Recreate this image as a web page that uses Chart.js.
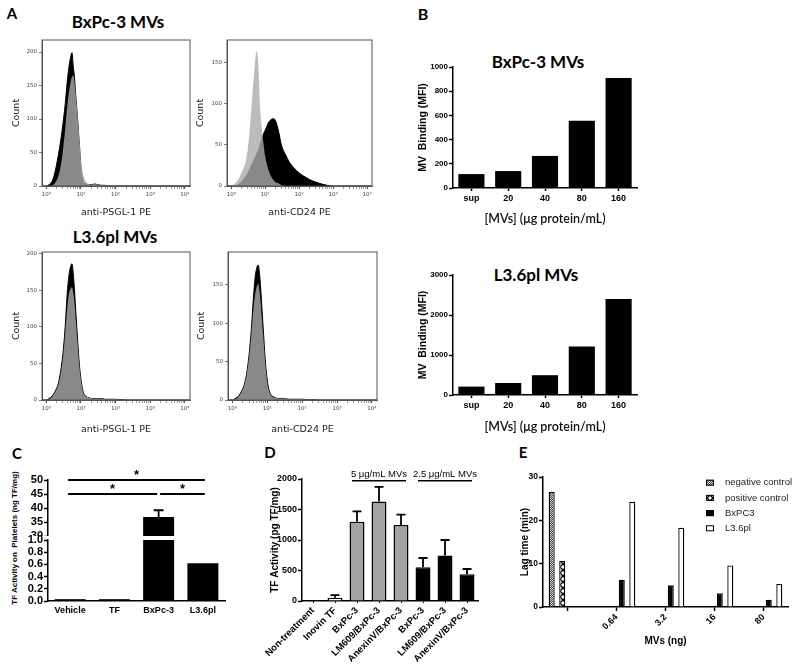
<!DOCTYPE html>
<html lang="en">
<head>
<meta charset="UTF-8" />
<title>MV binding and TF activity</title>
<script src="https://cdn.jsdelivr.net/npm/chart.js@4.4.1/dist/chart.umd.min.js"></script>
<style>
  html, body { margin: 0; background: #fff; }
  body { position: relative; width: 800px; height: 670px; overflow: hidden; }
  canvas { position: absolute; }
  .t { position: absolute; transform: translate(-50%, -50%); white-space: nowrap; line-height: 1;
       font-family: Lato, 'Open Sans', sans-serif; font-weight: 700; color: #000; }
  .ylab { position: absolute; transform: translate(-50%, -50%) rotate(-90deg); white-space: nowrap; line-height: 1;
       font-family: 'Liberation Sans', Arial, sans-serif; font-weight: 700; color: #000; }
</style>
</head>
<body>
  <div class="t" style="left:12px;top:13px;font-size:15px">A</div>
  <div class="t" style="left:118px;top:21px;font-size:17px">BxPc-3 MVs</div>
  <div class="t" style="left:115px;top:236px;font-size:17px">L3.6pl MVs</div>
  <div class="t" style="left:423px;top:14px;font-size:16px">B</div>
  <div class="t" style="left:538px;top:61px;font-size:17px">BxPc-3 MVs</div>
  <div class="t" style="left:536px;top:274px;font-size:17px">L3.6pl MVs</div>
  <div class="t" style="left:17px;top:453px;font-size:15px">C</div>
  <div class="t" style="left:270px;top:452px;font-size:15px">D</div>
  <div class="t" style="left:523px;top:452px;font-size:15px">E</div>
  <div class="ylab" style="left:15px;top:538px;font-size:8px">TF Activity on&nbsp; Platelets (ng TF/mg)</div>

<script>
  const ARIAL = "'Liberation Sans', Arial, sans-serif";
  const FLOW = "'DejaVu Sans', sans-serif";

  // ---- A: flow histograms ----
  const histX = [0.75, 1, 1.2, 1.5, 1.8, 2.2, 2.6, 3, 3.5, 4, 4.5, 5, 5.5, 6, 6.5, 7, 8, 9, 10, 11, 12, 14, 17, 20, 25, 30, 40, 50, 70, 100, 150, 200, 300, 500, 1000, 3000, 14000];
  const bxPsglBlack = [0, 0, 2, 8, 22, 45, 68, 92, 122, 155, 178, 192, 199, 178, 162, 138, 100, 62, 28, 12, 5, 3, 2, 2, 3, 2, 1, 1, 0, 0, 0, 0, 0, 0, 0, 0, 0];
  const bxPsglGrey = [0, 0, 0, 1, 5, 14, 30, 52, 85, 118, 140, 155, 163, 165, 155, 138, 105, 70, 38, 22, 14, 6, 3, 2, 3, 2, 1, 1, 0, 0, 0, 0, 0, 0, 0, 0, 0];
  const bxCd24Black = [0, 0, 0, 1, 3, 7, 11, 15, 20, 26, 30, 34, 38, 41, 45, 50, 58, 64, 68, 72, 76, 80, 82, 80, 66, 50, 38, 30, 22, 16, 11, 8, 5, 2, 0, 0, 0];
  const bxCd24Grey = [0, 0, 2, 6, 12, 20, 28, 42, 68, 100, 128, 150, 164, 160, 135, 100, 70, 50, 36, 28, 22, 14, 8, 5, 3, 1, 0, 0, 0, 0, 0, 0, 0, 0, 0, 0, 0];
  const l36PsglBlack = [0, 0, 2, 6, 12, 22, 40, 62, 100, 145, 170, 182, 186, 172, 150, 125, 82, 48, 28, 16, 9, 5, 3, 2, 2, 2, 2, 1, 1, 1, 0.5, 0, 0, 0, 0, 0, 0];
  const l36PsglGrey = [0, 0, 1, 5, 11, 20, 36, 56, 90, 125, 145, 152, 154, 146, 132, 112, 76, 45, 26, 15, 8, 5, 3, 2, 2, 2, 2, 1, 1, 1, 0.5, 0, 0, 0, 0, 0, 0];
  const l36Cd24Black = [0, 0, 2, 5, 11, 20, 36, 58, 92, 132, 160, 172, 176, 165, 145, 122, 80, 46, 26, 15, 9, 5, 3, 2, 2, 2, 1, 1, 1, 1, 0.5, 0.5, 0, 0, 0, 0, 0];
  const l36Cd24Grey = [0, 0, 1, 4, 10, 19, 34, 54, 85, 118, 138, 148, 152, 142, 126, 106, 72, 42, 23, 13, 8, 4, 3, 2, 2, 2, 1, 1, 1, 1, 0.5, 0.5, 0, 0, 0, 0, 0];
  const histTicks = [1, 2, 3, 4, 5, 6, 7, 8, 9, 10, 20, 30, 40, 50, 60, 70, 80, 90, 100, 200, 300, 400, 500, 600, 700, 800, 900, 1000, 2000, 3000, 4000, 5000, 6000, 7000, 8000, 9000, 10000];
  const histTickLabels = { 1: '10⁰', 10: '10¹', 100: '10²', 1000: '10³', 10000: '10⁴' };
  const countTicksA = [0, 50, 100, 150, 200];
  const countTicksB = [0, 50, 100, 150];

  // ---- B: MV binding ----
  const bCats = ['sup', '20', '40', '80', '160'];
  const bxBinding = [115, 140, 265, 555, 910];
  const l36Binding = [210, 300, 495, 1215, 2400];

  // ---- C: TF activity on platelets ----
  const cCats = ['Vehicle', 'TF', 'BxPc-3', 'L3.6pl'];
  const cActivity = [0.03, 0.03, 36.8, 0.62];
  const cErr = [0, 0, 2.4, 0];
  const cSig = [[0, 3, 50], [0, 2, 45], [2, 3, 45]];

  // ---- D: TF activity ----
  const dCats = ['Non-treatment', 'Inovin TF', 'BxPc-3', 'LM609/BxPc-3', 'AnexinV/BxPc-3', 'BxPc-3', 'LM609/BxPc-3', 'AnexinV/BxPc-3'];
  const dActivity = [5, 55, 1300, 1630, 1245, 555, 745, 440];
  const dErr = [0, 40, 170, 240, 170, 150, 255, 85];
  const dGroups = [{ label: '5 μg/mL MVs', from: 2, to: 4 }, { label: '2.5 μg/mL MVs', from: 5, to: 7 }];

  // ---- E: lag time ----
  const eCats = ['', '0.64', '3.2', '16', '80'];
  const eNeg = [26.6, null, null, null, null];
  const ePos = [10.7, null, null, null, null];
  const eBx = [null, 6.3, 5.0, 3.2, 1.7];
  const eL36 = [null, 24.3, 18.3, 9.6, 5.3];

  Chart.defaults.font.family = ARIAL;
  Chart.defaults.color = '#000';
  Chart.defaults.animation = false;
  Chart.defaults.plugins.legend.display = false;
  Chart.defaults.plugins.tooltip.enabled = false;

  // canvas sized so that the plot area lands on box
  function place(box, m) {
    const c = document.createElement('canvas');
    c.width = box.r - box.l + m.l + m.r;
    c.height = box.b - box.t + m.t + m.b;
    c.style.left = (box.l - m.l) + 'px';
    c.style.top = (box.t - m.t) + 'px';
    document.body.appendChild(c);
    return c;
  }
  const fixY = w => s => { s.width = w; s.paddingTop = 0; s.paddingBottom = 0; };
  const fixX = h => s => { s.height = h; s.paddingLeft = 0; s.paddingRight = 0; };
  const pad = m => ({ top: m.t, right: m.r, left: 0, bottom: 0 });

  const framePlugin = {
    id: 'frame',
    afterDraw(chart) {
      const { ctx, chartArea: a } = chart;
      ctx.save();
      ctx.strokeStyle = '#555';
      ctx.lineWidth = 1;
      ctx.strokeRect(a.left, a.top, a.right - a.left, a.bottom - a.top);
      ctx.restore();
    }
  };

  const errorBarPlugin = {
    id: 'errorBars',
    afterDatasetsDraw(chart) {
      const { ctx, chartArea: a } = chart;
      ctx.save();
      ctx.beginPath();
      ctx.rect(a.left, a.top - 1, a.right - a.left, a.bottom - a.top + 1);
      ctx.clip();
      ctx.strokeStyle = '#000';
      ctx.lineWidth = 1.8;
      chart.data.datasets.forEach((ds, di) => {
        if (!ds.errorBars) return;
        const meta = chart.getDatasetMeta(di);
        const ys = chart.scales[meta.yAxisID];
        meta.data.forEach((bar, i) => {
          const e = ds.errorBars[i];
          if (!e) return;
          const top = ys.getPixelForValue(ds.data[i] + e);
          ctx.beginPath();
          ctx.moveTo(bar.x, bar.y);
          ctx.lineTo(bar.x, top);
          ctx.moveTo(bar.x - ds.errorCap, top);
          ctx.lineTo(bar.x + ds.errorCap, top);
          ctx.stroke();
        });
      });
      ctx.restore();
    }
  };

  const sigPlugin = {
    id: 'sigLines',
    afterDraw(chart, args, opts) {
      if (!opts.pairs) return;
      const { ctx } = chart, x = chart.scales.x, y = chart.scales.y;
      const last = chart.data.labels.length - 1;
      ctx.save();
      ctx.strokeStyle = '#000';
      ctx.fillStyle = '#000';
      ctx.lineWidth = 2;
      ctx.font = 'bold 13px ' + ARIAL;
      ctx.textAlign = 'center';
      opts.pairs.forEach(([a, b, level]) => {
        const x0 = x.getPixelForValue(a) + (a === 0 ? -2 : 1.5);
        const x1 = x.getPixelForValue(b) + (b === last ? 2 : -1.5);
        const yy = y.getPixelForValue(level);
        ctx.beginPath();
        ctx.moveTo(x0, yy);
        ctx.lineTo(x1, yy);
        ctx.stroke();
        ctx.fillText('*', (x0 + x1) / 2, yy - 1.5);
      });
      ctx.restore();
    }
  };

  const groupPlugin = {
    id: 'groupLines',
    afterDraw(chart, args, opts) {
      if (!opts.groups) return;
      const { ctx } = chart, x = chart.scales.x, y = chart.scales.y;
      const yy = y.getPixelForValue(opts.level);
      ctx.save();
      ctx.strokeStyle = '#000';
      ctx.fillStyle = '#000';
      ctx.lineWidth = 1.5;
      ctx.font = '9.5px ' + ARIAL;
      ctx.textAlign = 'center';
      opts.groups.forEach(g => {
        const x0 = x.getPixelForValue(g.from) - 5, x1 = x.getPixelForValue(g.to) + 5;
        ctx.beginPath();
        ctx.moveTo(x0, yy);
        ctx.lineTo(x1, yy);
        ctx.stroke();
        ctx.fillText(g.label, (x0 + x1) / 2, yy - 4);
      });
      ctx.restore();
    }
  };

  const legendPlugin = {
    id: 'legendE',
    afterDraw(chart, args, opts) {
      if (opts.x === undefined) return;
      const { ctx } = chart;
      ctx.save();
      ctx.font = '9.5px ' + ARIAL;
      ctx.textBaseline = 'middle';
      ctx.textAlign = 'left';
      chart.data.datasets.forEach((ds, i) => {
        const y = opts.y + i * opts.gap;
        ctx.fillStyle = ds.backgroundColor;
        ctx.fillRect(opts.x, y - 3, 8, 6);
        ctx.strokeStyle = '#000';
        ctx.lineWidth = 1;
        ctx.strokeRect(opts.x + 0.5, y - 2.5, 7, 5);
        ctx.fillStyle = '#222';
        ctx.fillText(ds.label, opts.x + 19, y);
      });
      ctx.restore();
    }
  };

  function histogram(box, m, black, grey, ymax, yTicks, xTitle, yPad, xPad) {
    const pts = arr => histX.map((x, i) => ({ x: x, y: arr[i] }));
    return new Chart(place(box, m), {
      type: 'line',
      data: {
        datasets: [
          { data: pts(grey), order: 0, fill: 'origin', backgroundColor: 'rgba(171,171,171,0.8)', borderWidth: 0, pointRadius: 0, cubicInterpolationMode: 'monotone' },
          { data: pts(black), order: 1, fill: 'origin', backgroundColor: '#000', borderColor: '#000', borderWidth: 1, pointRadius: 0, cubicInterpolationMode: 'monotone' }
        ]
      },
      options: {
        responsive: false,
        layout: { padding: pad(m) },
        scales: {
          x: {
            type: 'logarithmic', min: 0.75, max: 14000,
            afterFit: fixX(m.b),
            afterBuildTicks: s => { s.ticks = histTicks.map(v => ({ value: v })); },
            border: { color: '#555', width: 1 },
            grid: { drawOnChartArea: false, tickLength: 3, tickColor: '#555', tickWidth: c => (c.tick && histTickLabels[c.tick.value]) ? 1.1 : 0.6 },
            ticks: { autoSkip: false, maxRotation: 0, padding: 2, color: '#444', font: { family: FLOW, size: 5.5 }, callback: v => histTickLabels[v] || '' },
            title: { display: true, text: xTitle, color: '#222', font: { family: FLOW, size: 9.5 }, padding: { top: 0, bottom: xPad } }
          },
          y: {
            min: 0, max: ymax,
            afterFit: fixY(m.l),
            afterBuildTicks: s => { s.ticks = yTicks.map(v => ({ value: v })); },
            border: { color: '#555', width: 1 },
            grid: { drawOnChartArea: false, tickLength: 3, tickColor: '#555', tickWidth: 0.8 },
            ticks: { autoSkip: false, padding: 2, color: '#444', font: { family: FLOW, size: 5.5 } },
            title: { display: true, text: 'Count', color: '#222', font: { family: FLOW, size: 9.5 }, padding: { top: yPad, bottom: 0 } }
          }
        }
      },
      plugins: [framePlugin]
    });
  }

  histogram({ l: 42, t: 40, r: 190, b: 186 }, { l: 42, t: 8, r: 8, b: 40 }, bxPsglBlack, bxPsglGrey, 218, countTicksA, 'anti-PSGL-1 PE', 10.5, 7.3);
  histogram({ l: 227, t: 40, r: 372, b: 186 }, { l: 42, t: 8, r: 8, b: 40 }, bxCd24Black, bxCd24Grey, 178, countTicksB, 'anti-CD24 PE', 10.3, 7.3);
  histogram({ l: 42, t: 252, r: 190, b: 400 }, { l: 42, t: 8, r: 8, b: 40 }, l36PsglBlack, l36PsglGrey, 202, countTicksA, 'anti-PSGL-1 PE', 10.5, 4.3);
  histogram({ l: 228, t: 252, r: 377, b: 400 }, { l: 42, t: 8, r: 8, b: 40 }, l36Cd24Black, l36Cd24Grey, 193, countTicksB, 'anti-CD24 PE', 10.3, 4.3);

  // GraphPad-like axis pieces
  const yAxis = (m, min, max, step, size, title, tPad, cb) => ({
    min: min, max: max,
    afterFit: fixY(m.l),
    border: { color: '#000', width: 1.5 },
    grid: { drawOnChartArea: false, tickLength: 4, tickColor: '#000', tickWidth: 1.5 },
    ticks: { autoSkip: false, stepSize: step, padding: 1, color: '#000', font: { size: size, weight: 'bold' }, callback: cb || (v => v) },
    title: { display: !!title, text: title, color: '#000', font: { size: 10, weight: 'bold' }, padding: { top: tPad, bottom: 0 } }
  });

  function bindingChart(box, values, max, step, xPad) {
    const m = { l: 45, t: 10, r: 12, b: 40 };
    const y = yAxis(m, 0, max, step, 8, 'MV  Binding (MFI)', 8.7);
    y.title.font.size = 10.5;
    return new Chart(place(box, m), {
      type: 'bar',
      data: { labels: bCats, datasets: [{ data: values, backgroundColor: '#000', barPercentage: 0.71, categoryPercentage: 1 }] },
      options: {
        responsive: false,
        layout: { padding: pad(m) },
        scales: {
          x: {
            afterFit: fixX(m.b),
            border: { color: '#000', width: 1.5 },
            grid: { drawOnChartArea: false, offset: false, tickLength: 3, tickColor: '#000', tickWidth: 1.5 },
            ticks: { maxRotation: 0, padding: 2, color: '#000', font: { size: 9, weight: 'bold' } },
            title: { display: true, text: '[MVs] (μg protein/mL)', color: '#111', font: { family: "Lato, 'Open Sans', sans-serif", size: 12.5, weight: '600' }, padding: { top: 0, bottom: xPad } }
          },
          y: y
        }
      }
    });
  }
  bindingChart({ l: 453, t: 67, r: 637, b: 188 }, bxBinding, 1000, 200, 1.5);
  bindingChart({ l: 453, t: 275, r: 637, b: 395 }, l36Binding, 3000, 1000, 0.5);

  // C: broken axis as two stacked plots sharing the categories
  const cBar = () => ({ data: cActivity, errorBars: cErr, errorCap: 5, backgroundColor: '#000', barPercentage: 0.7, categoryPercentage: 1, clip: 0 });
  const mCt = { l: 48, t: 14, r: 10, b: 0 };
  new Chart(place({ l: 48, t: 480, r: 225, b: 536 }, mCt), {
    type: 'bar',
    data: { labels: cCats, datasets: [cBar()] },
    options: {
      responsive: false,
      layout: { padding: pad(mCt) },
      scales: { x: { display: false }, y: yAxis(mCt, 30, 50, 5, 11, '', 0) },
      plugins: { sigLines: { pairs: cSig } }
    },
    plugins: [errorBarPlugin, sigPlugin]
  });
  const mCb = { l: 48, t: 8, r: 10, b: 20 };
  new Chart(place({ l: 48, t: 540, r: 225, b: 601 }, mCb), {
    type: 'bar',
    data: { labels: cCats, datasets: [cBar()] },
    options: {
      responsive: false,
      layout: { padding: pad(mCb) },
      scales: {
        x: {
          afterFit: fixX(mCb.b),
          border: { color: '#000', width: 1.5 },
          grid: { drawOnChartArea: false, drawTicks: false },
          ticks: { maxRotation: 0, padding: 4, color: '#000', font: { size: 9, weight: 'bold' } }
        },
        y: yAxis(mCb, 0, 1, 0.2, 11, '', 0, v => v.toFixed(1))
      }
    },
    plugins: [errorBarPlugin]
  });

  // D
  const mD = { l: 40, t: 16, r: 8, b: 64 };
  new Chart(place({ l: 302, t: 479, r: 478, b: 601 }, mD), {
    type: 'bar',
    data: {
      labels: dCats,
      datasets: [{
        data: dActivity, errorBars: dErr, errorCap: 4.5,
        backgroundColor: ['#fff', '#fff', '#a3a3a3', '#a3a3a3', '#a3a3a3', '#000', '#000', '#000'],
        borderColor: '#000', borderWidth: 1.5, barPercentage: 0.68, categoryPercentage: 1
      }]
    },
    options: {
      responsive: false,
      layout: { padding: pad(mD) },
      scales: {
        x: {
          afterFit: fixX(mD.b),
          border: { color: '#000', width: 1.5 },
          grid: { drawOnChartArea: false, offset: false, tickLength: 2, tickColor: '#000' },
          ticks: { autoSkip: false, minRotation: 45, maxRotation: 45, padding: 2, color: '#000', font: { size: 9.5, weight: 'bold' } }
        },
        y: yAxis(mD, 0, 2000, 500, 9, 'TF Activity (pg TF/mg)', 7)
      },
      plugins: { groupLines: { groups: dGroups, level: 1970 } }
    },
    plugins: [errorBarPlugin, groupPlugin]
  });

  // E
  function tile(draw, n) {
    const c = document.createElement('canvas');
    c.width = n; c.height = n;
    draw(c.getContext('2d'));
    return c.getContext('2d').createPattern(c, 'repeat');
  }
  const negFill = tile(g => {
    g.fillStyle = '#d0d0d0'; g.fillRect(0, 0, 2, 2);
    g.fillStyle = '#505050'; g.fillRect(0, 0, 1, 1); g.fillRect(1, 1, 1, 1);
  }, 2);
  const posFill = tile(g => {
    g.fillStyle = '#fff'; g.fillRect(0, 0, 6, 6);
    g.strokeStyle = '#000'; g.lineWidth = 1.3;
    g.beginPath(); g.moveTo(0, 0); g.lineTo(6, 6); g.moveTo(6, 0); g.lineTo(0, 6); g.stroke();
  }, 6);
  const eBar = (label, data, fill) => ({ label: label, data: data, backgroundColor: fill, borderColor: '#000', borderWidth: 1.3, barPercentage: 0.57, categoryPercentage: 0.86 });
  const mE = { l: 25, t: 6, r: 10, b: 45 };
  new Chart(place({ l: 543, t: 477, r: 788, b: 607 }, mE), {
    type: 'bar',
    data: {
      labels: eCats,
      datasets: [
        eBar('negative control', eNeg, negFill),
        eBar('positive control', ePos, posFill),
        eBar('BxPC3', eBx, '#000'),
        eBar('L3.6pl', eL36, '#fff')
      ]
    },
    options: {
      responsive: false,
      layout: { padding: pad(mE) },
      scales: {
        x: {
          afterFit: fixX(mE.b),
          border: { color: '#000', width: 1.5 },
          grid: { drawOnChartArea: false, offset: false, tickLength: 4, tickColor: '#000', tickWidth: 1.5 },
          ticks: { autoSkip: false, minRotation: 45, maxRotation: 45, padding: 1, color: '#000', font: { size: 9, weight: 'bold' } },
          title: { display: true, text: 'MVs (ng)', color: '#000', font: { size: 10, weight: 'bold' }, padding: { top: 0, bottom: 4.3 } }
        },
        y: yAxis(mE, 0, 30, 10, 8.5, 'Lag time (min)', 1)
      },
      plugins: { legendE: { x: 188, y: 11.7, gap: 15.2 } }
    },
    plugins: [legendPlugin]
  });
</script>
</body>
</html>
